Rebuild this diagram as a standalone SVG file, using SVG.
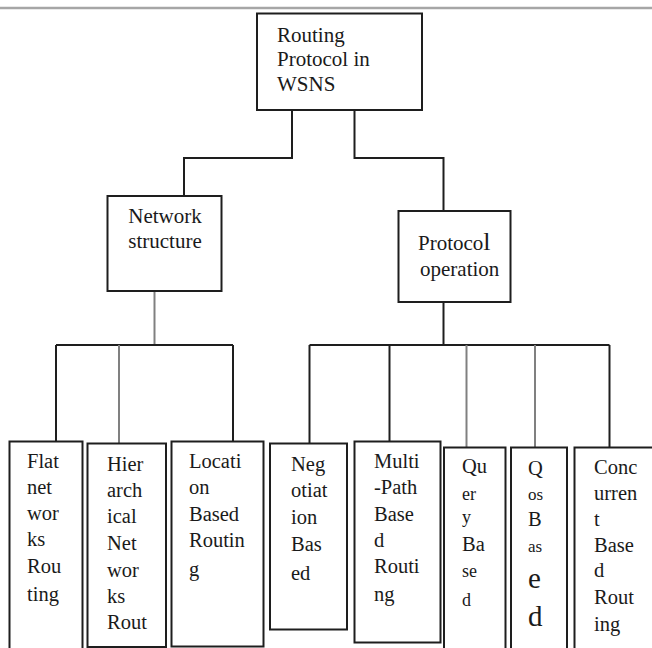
<svg xmlns="http://www.w3.org/2000/svg" width="652" height="648" viewBox="0 0 652 648">
<style>
  .box { fill: #ffffff; stroke: #1e1e1e; stroke-width: 2; }
  .ln { fill: none; stroke: #1e1e1e; stroke-width: 2; }
  .lg { fill: none; stroke: #808080; stroke-width: 2; }
  text { font-family: "Liberation Serif", "Times New Roman", serif; fill: #1a1a1a; }
  .h { font-size: 21px; }
  .t { font-size: 20.5px; }
  .s { font-size: 18px; }
  .xs { font-size: 17px; }
  .big { font-size: 29px; }
</style>
<rect x="0" y="0" width="652" height="648" fill="#ffffff"/>
<line x1="0" y1="8" x2="652" y2="8" stroke="#a6a6a6" stroke-width="2.5"/>

<g id="connectors">
  <path class="ln" d="M292,110 V158 H184 V196"/>
  <path class="ln" d="M354.5,110 V158 H443.5 V211"/>
  <path class="lg" d="M154.5,291 V345"/>
  <path class="ln" d="M56,345 H233"/>
  <path class="ln" d="M56,345 V441.5"/>
  <path class="lg" d="M119,345 V443.5"/>
  <path class="ln" d="M233,345 V441.5"/>
  <path class="ln" d="M443.5,302 V345"/>
  <path class="ln" d="M309.5,345 H609.5"/>
  <path class="ln" d="M309.5,345 V443.5"/>
  <path class="ln" d="M389.5,345 V441.5"/>
  <path class="lg" d="M466.5,345 V447.5"/>
  <path class="lg" d="M535,345 V447.5"/>
  <path class="ln" d="M609.5,345 V447.5"/>
</g>

<g id="root">
  <rect class="box" x="257" y="13.5" width="165" height="96.5"/>
  <text class="h" x="277"><tspan x="277" y="42">Routing</tspan><tspan x="277" y="66">Protocol in</tspan><tspan x="277" y="91">WSNS</tspan></text>
</g>

<g id="network-structure">
  <rect class="box" x="107.5" y="196" width="114" height="95"/>
  <text class="h" text-anchor="middle"><tspan x="165" y="223">Network</tspan><tspan x="165" y="248">structure</tspan></text>
</g>

<g id="protocol-operation">
  <rect class="box" x="398.5" y="211" width="112" height="91"/>
  <text class="h" x="418" y="250">Protoco<tspan font-size="26">l</tspan></text>
  <text class="h" x="420" y="276">operation</text>
</g>

<g id="flat">
  <rect class="box" x="9.5" y="441.5" width="73" height="230"/>
  <text class="t"><tspan x="27" y="468">Flat</tspan><tspan x="27" y="494">net</tspan><tspan x="27" y="520">wor</tspan><tspan x="27" y="546">ks</tspan><tspan x="27" y="573">Rou</tspan><tspan x="27" y="601">ting</tspan></text>
</g>

<g id="hierarchical">
  <rect class="box" x="87.5" y="443.5" width="78.5" height="203.5"/>
  <text class="t"><tspan x="107" y="470.5">Hier</tspan><tspan x="107" y="496.5">arch</tspan><tspan x="107" y="523">ical</tspan><tspan x="107" y="550">Net</tspan><tspan x="107" y="576.5">wor</tspan><tspan x="107" y="602.5">ks</tspan><tspan x="107" y="628.5">Rout</tspan></text>
</g>

<g id="location">
  <rect class="box" x="171.5" y="441.5" width="92" height="205"/>
  <text class="t"><tspan x="189" y="468">Locati</tspan><tspan x="189" y="494">on</tspan><tspan x="189" y="520.5">Based</tspan><tspan x="189" y="546.5">Routin</tspan><tspan x="189" y="575.5">g</tspan></text>
</g>

<g id="negotiation">
  <rect class="box" x="270" y="443.5" width="77" height="186"/>
  <text class="t"><tspan x="291" y="470.5">Neg</tspan><tspan x="291" y="496.5">otiat</tspan><tspan x="291" y="524">ion</tspan><tspan x="291" y="550.5">Bas</tspan><tspan x="291" y="579.5">ed</tspan></text>
</g>

<g id="multipath">
  <rect class="box" x="354.5" y="441.5" width="86" height="201"/>
  <text class="t"><tspan x="374" y="468">Multi</tspan><tspan x="374" y="494">-Path</tspan><tspan x="374" y="520.5">Base</tspan><tspan x="374" y="546.5">d</tspan><tspan x="374" y="572.5">Routi</tspan><tspan x="374" y="601">ng</tspan></text>
</g>

<g id="query">
  <rect class="box" x="444" y="447.5" width="61.5" height="230"/>
  <text class="t"><tspan x="462" y="473">Qu</tspan><tspan class="s" x="462" y="500">er</tspan><tspan class="s" x="462" y="523">y</tspan><tspan x="462" y="550.5">Ba</tspan><tspan class="s" x="462" y="577">se</tspan><tspan class="s" x="462" y="606">d</tspan></text>
</g>

<g id="qos">
  <rect class="box" x="511" y="447.5" width="56" height="230"/>
  <text class="t"><tspan x="528" y="475">Q</tspan><tspan class="xs" x="528" y="500">os</tspan><tspan x="528" y="526">B</tspan><tspan class="xs" x="528" y="551.5">as</tspan><tspan class="big" x="528" y="588">e</tspan><tspan class="big" x="528" y="626">d</tspan></text>
</g>

<g id="concurrent">
  <rect class="box" x="574.5" y="447.5" width="100" height="230"/>
  <text class="t"><tspan x="594" y="474">Conc</tspan><tspan x="594" y="500">urren</tspan><tspan x="594" y="526">t</tspan><tspan x="594" y="551.5">Base</tspan><tspan x="594" y="577">d</tspan><tspan x="594" y="604">Rout</tspan><tspan x="594" y="630.5">ing</tspan></text>
</g>
</svg>
